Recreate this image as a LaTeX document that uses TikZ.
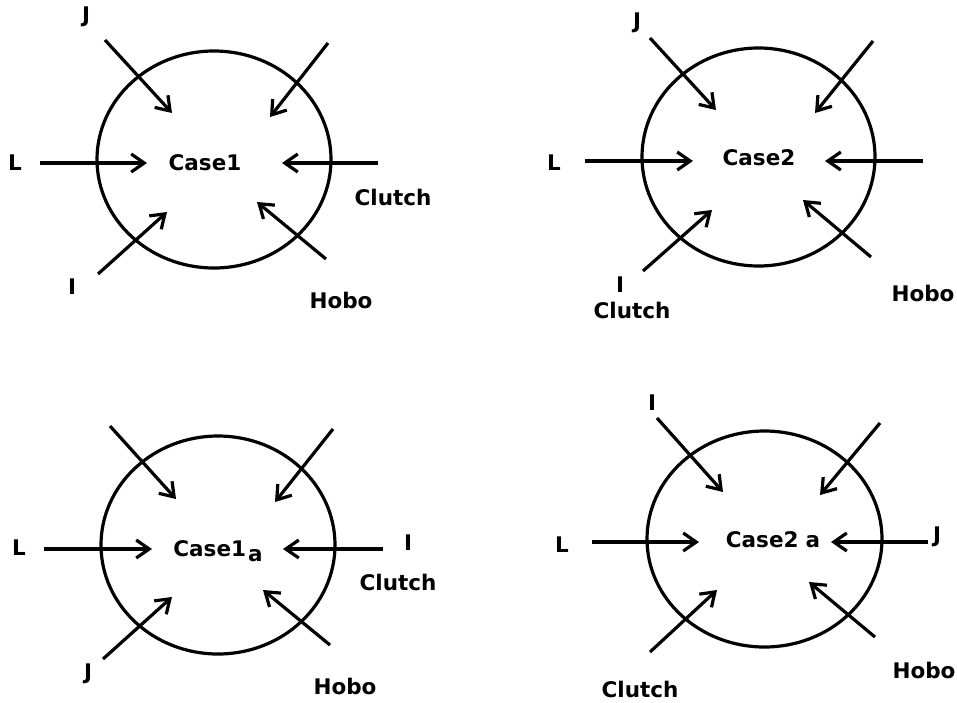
\documentclass[tikz,border=0pt]{standalone}
\usepackage{fontspec}
\setmainfont{DejaVu Sans}
\usetikzlibrary{arrows.meta,shapes.geometric}

\begin{document}
\begin{tikzpicture}[x=1pt,y=-1pt,>={Straight Barb[length=13pt,width=18pt]},
  every node/.style={font=\bfseries\fontsize{21.5}{24}\selectfont},
  ring/.style={ellipse,draw,line width=3.2pt,inner sep=0pt},
  feed/.style={->,line width=3.2pt}]
\useasboundingbox (0,0) rectangle (957,702);

% define the first case
  \node[ring,minimum width=234pt,minimum height=217pt] (r1) at (214,159.5) {};
  \node (c1) at (205,163) {Case1};
  \node (l1) at (15,163) {L};
  \node (j1) at (86,17) {J};
  \node (i1) at (72,287) {I};
  \node (k1) at (393,197) {Clutch};
  \node (h1) at (341,300) {Hobo};

% define the second case
  \node[ring,minimum width=233pt,minimum height=218pt] (r2) at (758.5,157) {};
  \node (c2) at (759,158) {Case2};
  \node (l2) at (554,163) {L};
  \node (j2) at (637,23) {J};
  \node (i2) at (620,285) {I};
  \node (k2) at (632,310) {Clutch};
  \node (h2) at (923,293) {Hobo};

% define the third case
  \node[ring,minimum width=234pt,minimum height=218pt] (r3) at (218,545) {};
  \node[anchor=base] (c3) at (218,556) {Case1\hspace{2pt}\raisebox{-5pt}{a}};
  \node (l3) at (19,548) {L};
  \node (i3) at (408,543) {I};
  \node (k3) at (398,582) {Clutch};
  \node (j3) at (88,674) {J};
  \node (h3) at (345,686) {Hobo};

% define the fourth case
  \node[ring,minimum width=235pt,minimum height=216pt] (r4) at (764.5,539) {};
  \node (c4) at (773,540) {Case2\hspace{7pt}a};
  \node (l4) at (562,545) {L};
  \node (i4) at (652,403) {I};
  \node (j4) at (937,537) {J};
  \node (k4) at (640,689) {Clutch};
  \node (h4) at (924,670) {Hobo};

% define the links
  \foreach \n/\x/\y/\u/\v in {
      1L/40/163/147/163, 1R/378/163/282/163, 1J/105/40/172/113, 1T/328/43/270/117,
      1I/98/274/167/212, 1H/326/259/257/202,
      2L/585/161/693/161, 2R/923/161/825/161, 2J/650/38/716/110, 2T/873/41/815/113,
      2I/643/271/712/210, 2H/871/257/803/200,
      3L/44/549/152/549, 3R/383/549/283/549, 3J/110/426/176/499, 3T/333/429/275/502,
      3I/103/659/172/597, 3H/330/645/263/590,
      4L/592/542/699/542, 4R/928/542/831/542, 4J/657/418/723/492, 4T/880/423/820/495,
      4I/650/652/717/590, 4H/875/637/809/582}
  {
    \coordinate (a\n) at (\x,\y);
    \coordinate (b\n) at (\u,\v);
    \draw[feed] (a\n) -- (b\n);
  }

\end{tikzpicture}
\end{document}
